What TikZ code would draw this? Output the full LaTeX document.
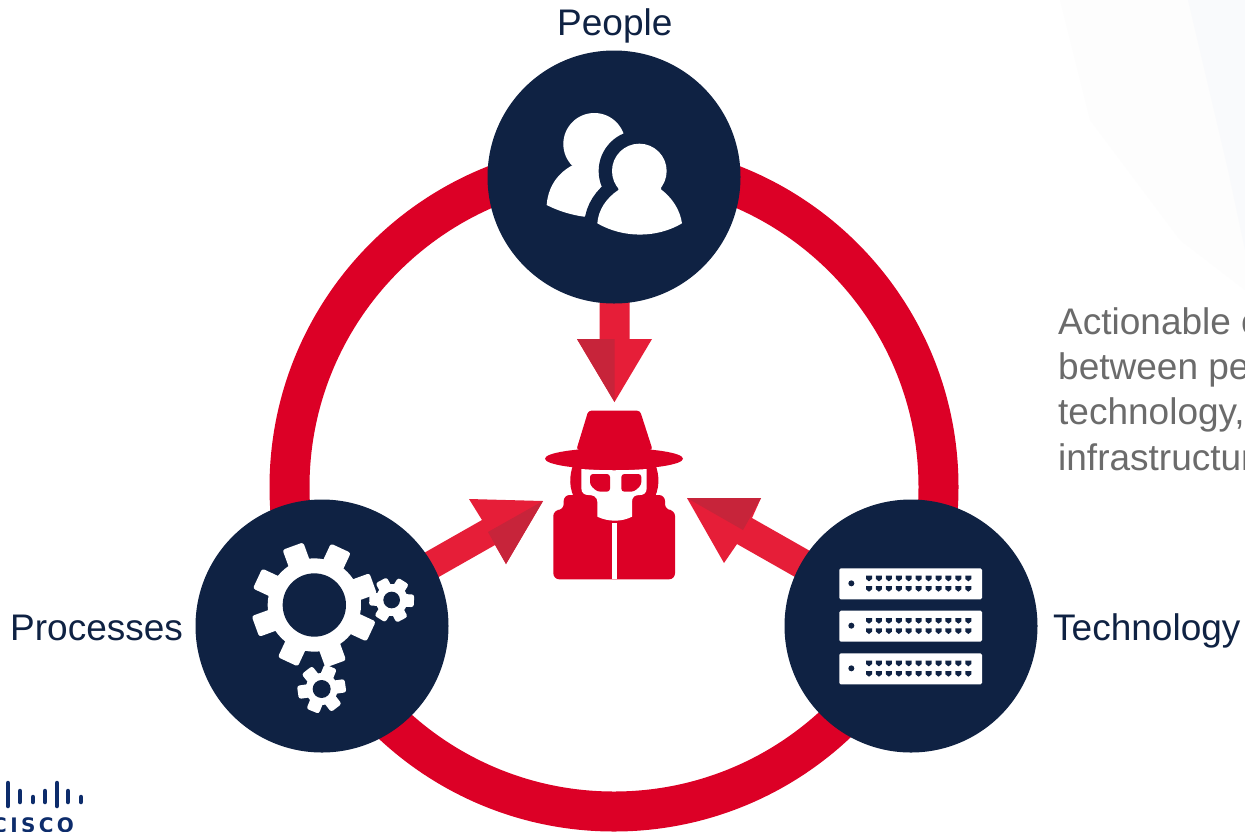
\documentclass[tikz,border=0pt]{standalone}
\usepackage{fontspec}
\setmainfont{Liberation Sans}
\newfontfamily\ciscofont[LetterSpace=17]{DejaVu Sans}
\definecolor{navy}{HTML}{0F2243}
\definecolor{ringred}{HTML}{DC0026}
\definecolor{arrowred}{HTML}{E61E38}
\definecolor{arrowdark}{HTML}{C7243A}
\definecolor{bodygray}{HTML}{6B6B6B}
\definecolor{ciscoblue}{HTML}{0D2C6B}
\definecolor{faintA}{HTML}{FDFDFD}
\definecolor{faintB}{HTML}{F9FAFC}
\newcommand\mygear[8]{%
  \begin{scope}[shift={(#1,#2)}]
    \foreach \k in {1,...,#8}{
      \fill[white,rounded corners=2.5pt,rotate=#7+360/#8*\k] (#4-15,-#6) -- (#5,-#6) -- (#5,#6) -- (#4-15,#6) -- cycle;
    }
    \fill[white] (0,0) circle (#4);
    \fill[navy] (0,0) circle (#3);
  \end{scope}}
\newcommand\myrack[1]{%
  \fill[white,rounded corners=1.5pt] (178,#1) rectangle (606,#1+93);
  \fill[navy] (214,#1+45) circle (9);
  \foreach \k in {0,...,10}{
    \foreach \r in {22,53}{
      \fill[navy] (258+29.8*\k,#1+\r) -- ++(18,0) -- ++(0,10) -- ++(-9,7) -- ++(-9,-7) -- cycle;
    }
  }}
\tikzset{
  hub/.style={circle,fill=navy,minimum size=253pt,inner sep=0pt},
  lab/.style={text=navy,anchor=base west,inner sep=0pt,font=\fontsize{37}{45}\selectfont},
  grayline/.style={text=bodygray,anchor=base west,inner sep=0pt,font=\fontsize{37}{45}\selectfont},
  shaft/.style={fill=arrowred},
  shade/.style={fill=arrowdark},
  ciscobar/.style={line width=4.5pt,line cap=round,draw=ciscoblue}
}
\begin{document}
\begin{tikzpicture}[x=1pt,y=-1pt]
\useasboundingbox (0,0) rectangle (1245,831);
\clip (0,0) rectangle (1245,831);
\fill[white] (0,0) rectangle (1245,831);
% faint backdrop at top right
\fill[faintA] (1060,0) -- (1245,0) -- (1245,290) -- (1180,240) -- (1090,120) -- cycle;
\fill[faintB] (1188,0) -- (1245,0) -- (1245,250) -- (1228,170) -- (1208,85) -- cycle;
% ring
\coordinate (ringc) at (614,487);
\draw[ringred,line width=40pt] (ringc) circle (324.5);
% arrows
\fill[shaft] (599.5,290) -- (629.5,290) -- (629.5,339) -- (652,339) -- (614.5,402) -- (577,339) -- (599.5,339) -- cycle;
\fill[shade] (577,339) -- (614.5,339) -- (614.5,402) -- cycle;
\fill[shaft] (394,570) -- (482,520) -- (469,499) -- (543,501) -- (506,564) -- (495,545) -- (407,595) -- cycle;
\fill[shade] (543,501) -- (506,564) -- (488,532) -- cycle;
\fill[shaft] (840,568) -- (752,518) -- (761,498) -- (687,498) -- (724,563) -- (737,544) -- (825,594) -- cycle;
\fill[shade] (687,498) -- (761,498) -- (743,530) -- cycle;
% hubs
\node[hub] (people) at (614,177) {};
\node[hub] (processes) at (322,626) {};
\node[hub] (technology) at (911,626) {};
% labels
\node[lab] (lpeople) at (557,35) {People};
\node[lab] (lprocesses) at (10,640) {Processes};
\node[lab] (ltechnology) at (1053,640) {Technology};
\node[grayline] (g1) at (1058,334) {Actionable c};
\node[grayline] (g2) at (1058,379) {between pe};
\node[grayline] (g3) at (1058,424) {technology,};
\node[grayline] (g4) at (1058,470) {infrastructur};
% people icon
\begin{scope}[shift={(480,50)},scale=1/3]
  \fill[white] (343,282) circle (93);
  \fill[white] (275,347) .. controls (225,375) and (203,420) .. (200,465)
     .. controls (235,483) and (275,495) .. (312,500) -- (430,480) -- (430,340) -- cycle;
  \fill[navy] (478,363) circle (122);
  \path[draw=navy,line width=26pt,fill=navy] (415,420) .. controls (378,445) and (355,480) .. (352,520)
     .. controls (430,565) and (530,565) .. (606,520)
     .. controls (600,480) and (578,445) .. (543,418) -- cycle;
  \fill[white] (478,363) circle (82);
  \fill[white] (415,410) -- (415,420) .. controls (378,445) and (355,480) .. (352,520)
     .. controls (430,565) and (530,565) .. (606,520)
     .. controls (600,480) and (578,445) .. (543,418) -- (543,410) -- cycle;
\end{scope}
% spy icon
\begin{scope}[shift={(460,300)},scale=1/3]
  \fill[ringred] (345,480) .. controls (332,510) and (322,550) .. (342,592) -- (584,592) .. controls (604,550) and (594,510) .. (581,480) -- cycle;
  \fill[ringred,rounded corners=6pt] (280,838) -- (280,630) -- (311,630) -- (311,585) -- (410,585) -- (410,600) -- (516,600) -- (516,585) -- (615,585) -- (615,630) -- (645,630) -- (645,838) -- cycle;
  \fill[white] (364,507) .. controls (430,512) and (495,512) .. (560,507) -- (560,565) .. controls (560,580) and (550,585) .. (540,585)
     .. controls (525,585) and (516,590) .. (516,605) -- (516,650)
     .. controls (485,666) and (445,666) .. (412,650) -- (412,605)
     .. controls (412,590) and (400,585) .. (385,585)
     .. controls (375,585) and (364,580) .. (364,565) -- cycle;
  \fill[ringred,rounded corners=3pt] (390,522) -- (450,522) -- (450,575) -- (412,575) -- (390,555) -- cycle;
  \fill[ringred,rounded corners=3pt] (484,522) -- (544,522) -- (544,555) -- (522,575) -- (484,575) -- cycle;
  \fill[white] (456,668) rectangle (471,838);
  \fill[ringred] (462,476) ellipse (207 and 32);
  \fill[ringred,rounded corners=3pt] (385,332) -- (540,332) -- (578,450) -- (349,450) -- cycle;
\end{scope}
% gears
\begin{scope}[shift={(190,495)},scale=1/3]
  \mygear{373}{330}{95}{140}{188}{33}{20}{8}
  \mygear{605}{315}{25}{48}{67}{19}{-2}{6}
  \mygear{395}{582}{27}{48}{72}{20}{8}{6}
\end{scope}
% servers
\begin{scope}[shift={(780,495)},scale=1/3]
  \myrack{220}
  \myrack{347}
  \myrack{475}
\end{scope}
% logo
\coordinate (b1a) at (8,783); \coordinate (b1b) at (8,806);
\coordinate (b2a) at (20,791); \coordinate (b2b) at (20,802);
\coordinate (b3a) at (33,797); \coordinate (b3b) at (33,802);
\coordinate (b4a) at (45,791); \coordinate (b4b) at (45,802);
\coordinate (b5a) at (57,783); \coordinate (b5b) at (57,806);
\coordinate (b6a) at (68,791); \coordinate (b6b) at (68,802);
\coordinate (b7a) at (81,797); \coordinate (b7b) at (81,802);
\foreach \n in {1,...,7}{\draw[ciscobar] (b\n a) -- (b\n b);}
\node[text=ciscoblue,anchor=base west,inner sep=0pt,font=\ciscofont\bfseries\fontsize{20}{20}\selectfont] (ciscotext) at (-8,832) {CISCO};
\end{tikzpicture}
\end{document}
